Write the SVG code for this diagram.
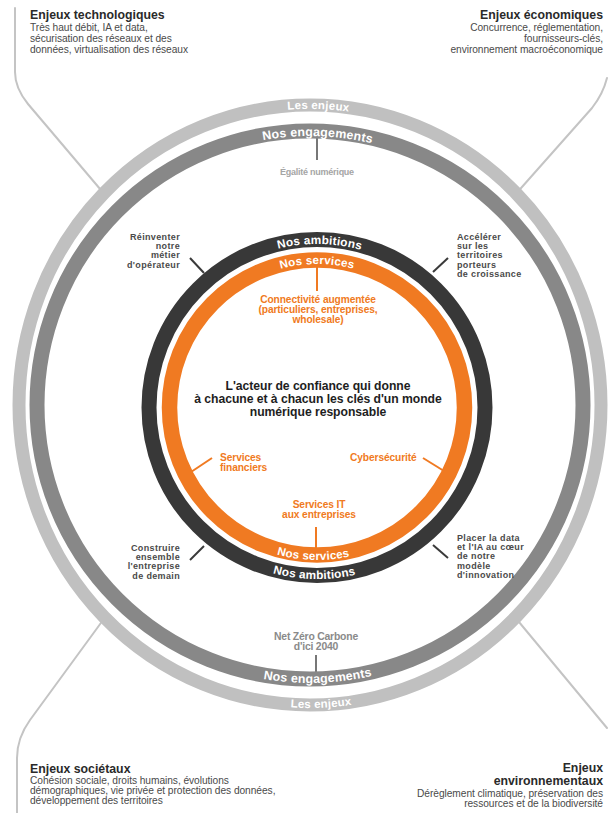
<svg xmlns="http://www.w3.org/2000/svg" width="608" height="813" viewBox="0 0 608 813">
  <defs>
    <style>
      text { font-family: "Liberation Sans", Arial, sans-serif; }
      .ttl { font-size: 12.3px; font-weight: bold; fill: #2a2a2a; }
      .body { font-size: 10.2px; font-weight: normal; fill: #4a4a4a; letter-spacing: -0.05px; }
      .amb { font-size: 9px; font-weight: bold; fill: #4a4a4a; letter-spacing: 0.35px; }
      .eng { font-size: 9px; font-weight: bold; fill: #a5a5a5; letter-spacing: -0.25px; }
      .eng2 { font-size: 10.4px; font-weight: bold; fill: #8a8a8a; letter-spacing: -0.2px; }
      .svc { font-size: 10.2px; font-weight: bold; fill: #f07a22; letter-spacing: -0.1px; }
      .core { font-size: 12.2px; font-weight: bold; fill: #1e1e1e; letter-spacing: -0.05px; }
      .band { font-weight: bold; fill: #ffffff; letter-spacing: 0.2px; }
      .tick-dark { stroke: #3a3a3a; stroke-width: 2; fill: none; }
      .tick-gray { stroke: #777777; stroke-width: 2; fill: none; }
      .tick-orange { stroke: #f07a22; stroke-width: 2; fill: none; }
      .corner { stroke: #c4c4c4; stroke-width: 2; fill: none; stroke-linecap: round; }
    </style>
    <!-- baselines for ring labels: top arcs run clockwise, bottom arcs counter-clockwise -->
    <path id="enjeuxTop" d="M 21,405 A 289 296 0 0 1 599,405"/>
    <path id="enjeuxBot" d="M 18,405 A 292 303 0 0 0 602,405"/>
    <path id="engTop" d="M 41,405 A 269 269 0 0 1 579,405"/>
    <path id="engBot" d="M 33,405 A 277 278 0 0 0 587,405"/>
    <path id="ambTop" d="M 153.5,407.5 A 163.5 163.5 0 0 1 480.5,407.5"/>
    <path id="ambBot" d="M 145.5,407.5 A 171.5 171.5 0 0 0 488.5,407.5"/>
    <path id="svcTop" d="M 173.5,407.5 A 143.5 143.5 0 0 1 460.5,407.5"/>
    <path id="svcBot" d="M 164.5,407.5 A 152.5 152.5 0 0 0 469.5,407.5"/>
  </defs>

  <rect width="608" height="813" fill="#ffffff"/>

  <!-- connectors: corner leaders and ring ticks -->
  <g id="connectors">
    <path class="corner" d="M 15,8 L 15,72 Q 15,88 28,104 L 106,196"/>
    <path class="corner" d="M 514,196 L 592,108 Q 603,94 607,78"/>
    <path class="corner" d="M 106,616 L 30,720 Q 17,738 17,758 L 17,813"/>
    <path class="corner" d="M 514,616 L 607,728"/>

    <line class="tick-gray" x1="317" y1="138" x2="317" y2="160"/>
    <line class="tick-gray" x1="316" y1="655" x2="316" y2="674"/>

    <line class="tick-dark" x1="190" y1="258" x2="204" y2="273"/>
    <line class="tick-dark" x1="433" y1="272" x2="448" y2="258"/>
    <line class="tick-dark" x1="190" y1="560" x2="204" y2="546"/>
    <line class="tick-dark" x1="433" y1="545" x2="448" y2="558"/>

    <line class="tick-orange" x1="317" y1="266" x2="317" y2="291"/>
    <line class="tick-orange" x1="191" y1="472" x2="212" y2="458"/>
    <line class="tick-orange" x1="423" y1="458" x2="444" y2="471"/>
    <line class="tick-orange" x1="316" y1="527" x2="316" y2="550"/>
  </g>

  <!-- outer ring: Les enjeux -->
  <g id="ring-enjeux">
    <ellipse cx="310" cy="405" rx="291" ry="300" fill="none" stroke="#c0c0c0" stroke-width="13"/>
    <text class="band" font-size="11.5"><textPath href="#enjeuxTop" startOffset="50.9%" text-anchor="middle">Les enjeux</textPath></text>
    <text class="band" font-size="11.5"><textPath href="#enjeuxBot" startOffset="51.2%" text-anchor="middle">Les enjeux</textPath></text>
  </g>

  <!-- ring: Nos engagements -->
  <g id="ring-engagements">
    <ellipse cx="310" cy="405" rx="273" ry="274" fill="none" stroke="#888888" stroke-width="15"/>
    <text class="band" font-size="12.4"><textPath href="#engTop" startOffset="50.9%" text-anchor="middle">Nos engagements</textPath></text>
    <text class="band" font-size="12.4"><textPath href="#engBot" startOffset="50.9%" text-anchor="middle">Nos engagements</textPath></text>
  </g>

  <!-- ring: Nos ambitions -->
  <g id="ring-ambitions">
    <circle cx="317" cy="407.5" r="168" fill="none" stroke="#383838" stroke-width="15"/>
    <text class="band" font-size="11.8"><textPath href="#ambTop" startOffset="50.5%" text-anchor="middle">Nos ambitions</textPath></text>
    <text class="band" font-size="11.8"><textPath href="#ambBot" startOffset="49.5%" text-anchor="middle">Nos ambitions</textPath></text>
  </g>

  <!-- ring: Nos services -->
  <g id="ring-services">
    <circle cx="317" cy="407.5" r="147.5" fill="none" stroke="#f07a22" stroke-width="15.5"/>
    <text class="band" font-size="11.6"><textPath href="#svcTop" startOffset="50%" text-anchor="middle">Nos services</textPath></text>
    <text class="band" font-size="11.6"><textPath href="#svcBot" startOffset="49.2%" text-anchor="middle">Nos services</textPath></text>
  </g>

  <!-- corner stakes -->
  <g id="enjeux-technologiques">
    <text class="ttl" x="30" y="19">Enjeux technologiques</text>
    <text class="body"><tspan x="30" y="31">Très haut débit, IA et data,</tspan><tspan x="30" y="42">sécurisation des réseaux et des</tspan><tspan x="30" y="53">données, virtualisation des réseaux</tspan></text>
  </g>
  <g id="enjeux-economiques" text-anchor="end">
    <text class="ttl" x="603" y="19">Enjeux économiques</text>
    <text class="body"><tspan x="603" y="31">Concurrence, réglementation,</tspan><tspan x="603" y="42">fournisseurs-clés,</tspan><tspan x="603" y="53">environnement macroéconomique</tspan></text>
  </g>
  <g id="enjeux-societaux">
    <text class="ttl" x="30" y="773">Enjeux sociétaux</text>
    <text class="body"><tspan x="30" y="784">Cohésion sociale, droits humains, évolutions</tspan><tspan x="30" y="794">démographiques, vie privée et protection des données,</tspan><tspan x="30" y="804">développement des territoires</tspan></text>
  </g>
  <g id="enjeux-environnementaux" text-anchor="end">
    <text class="ttl"><tspan x="603" y="772">Enjeux</tspan><tspan x="603" y="785">environnementaux</tspan></text>
    <text class="body"><tspan x="603" y="797">Dérèglement climatique, préservation des</tspan><tspan x="603" y="807">ressources et de la biodiversité</tspan></text>
  </g>

  <!-- commitments -->
  <g id="engagement-egalite">
    <text class="eng" x="317" y="175" text-anchor="middle">Égalité numérique</text>
  </g>
  <g id="engagement-carbone" text-anchor="middle">
    <text class="eng2"><tspan x="316" y="640">Net Zéro Carbone</tspan><tspan x="316" y="650">d'ici 2040</tspan></text>
  </g>

  <!-- ambitions -->
  <g id="ambition-reinventer" text-anchor="end">
    <text class="amb"><tspan x="180" y="240">Réinventer</tspan><tspan x="180" y="249.2">notre</tspan><tspan x="180" y="258.4">métier</tspan><tspan x="180" y="267.6">d'opérateur</tspan></text>
  </g>
  <g id="ambition-accelerer">
    <text class="amb"><tspan x="457" y="240">Accélérer</tspan><tspan x="457" y="249.2">sur les</tspan><tspan x="457" y="258.4">territoires</tspan><tspan x="457" y="267.6">porteurs</tspan><tspan x="457" y="276.8">de croissance</tspan></text>
  </g>
  <g id="ambition-construire" text-anchor="end">
    <text class="amb"><tspan x="180" y="551">Construire</tspan><tspan x="180" y="560.2">ensemble</tspan><tspan x="180" y="569.4">l'entreprise</tspan><tspan x="180" y="578.6">de demain</tspan></text>
  </g>
  <g id="ambition-data">
    <text class="amb"><tspan x="457" y="541">Placer la data</tspan><tspan x="457" y="550.2">et l'IA au cœur</tspan><tspan x="457" y="559.4">de notre</tspan><tspan x="457" y="568.6">modèle</tspan><tspan x="457" y="577.8">d'innovation</tspan></text>
  </g>

  <!-- services -->
  <g id="service-connectivite" text-anchor="middle">
    <text class="svc"><tspan x="318" y="303">Connectivité augmentée</tspan><tspan x="318" y="313">(particuliers, entreprises,</tspan><tspan x="318" y="323">wholesale)</tspan></text>
  </g>
  <g id="service-financiers">
    <text class="svc"><tspan x="220" y="461">Services</tspan><tspan x="220" y="471">financiers</tspan></text>
  </g>
  <g id="service-cyber">
    <text class="svc" x="350" y="461">Cybersécurité</text>
  </g>
  <g id="service-it" text-anchor="middle">
    <text class="svc"><tspan x="319" y="508">Services IT</tspan><tspan x="319" y="518">aux entreprises</tspan></text>
  </g>

  <!-- core purpose -->
  <g id="raison-d-etre" text-anchor="middle">
    <text class="core"><tspan x="318" y="390">L'acteur de confiance qui donne</tspan><tspan x="318" y="403">à chacune et à chacun les clés d'un monde</tspan><tspan x="318" y="416">numérique responsable</tspan></text>
  </g>
</svg>
